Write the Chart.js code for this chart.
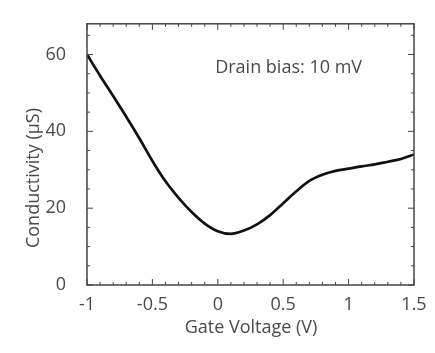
<!DOCTYPE html>
<html><head><meta charset="utf-8">
<script src="https://cdn.jsdelivr.net/npm/chart.js@4/dist/chart.umd.min.js"></script>
<style>html,body{margin:0;padding:0;background:#fff;}#wrap{width:435px;height:353px;}</style>
</head><body><div id="wrap"><canvas id="c" width="435" height="353"></canvas></div>
<script>
const gateVoltage = [-1,-0.9,-0.8,-0.7,-0.6,-0.5,-0.4,-0.3,-0.2,-0.1,0,0.1,0.2,0.3,0.4,0.5,0.6,0.7,0.8,0.9,1.0,1.1,1.2,1.3,1.4,1.5];
const conductivity = [60,54.5,49.2,43.8,38.2,32.3,27.0,22.7,19.0,16.0,14.0,13.3,14.2,15.8,18.2,21.3,24.4,27.1,28.7,29.7,30.3,30.9,31.4,32.1,32.8,34.0];
const xTicks = [-1,-0.5,0,0.5,1,1.5];
const yTicks = [0,20,40,60];
const annotationText = "Drain bias: 10 mV";
const xTitle = "Gate Voltage (V)";
const yTitle = "Conductivity (µS)";
const textColor = "#4a4a4a";
const fontFamily = "'Open Sans', sans-serif";

const framePlugin = {
  id: 'frame',
  afterDraw(chart) {
    const ctx = chart.ctx, a = chart.chartArea, xs = chart.scales.x, ys = chart.scales.y;
    ctx.save();
    ctx.strokeStyle = '#444';
    ctx.lineWidth = 1.5;
    ctx.strokeRect(a.left, a.top, a.right - a.left, a.bottom - a.top);
    ctx.lineWidth = 1;
    for (let i = -10; i <= 15; i++) {
      const v = i / 10, px = xs.getPixelForValue(v);
      const len = (i % 5 === 0) ? 6 : 3;
      ctx.beginPath();
      ctx.moveTo(px, a.bottom); ctx.lineTo(px, a.bottom - len);
      ctx.moveTo(px, a.top); ctx.lineTo(px, a.top + len);
      ctx.stroke();
    }
    for (let v = 0; v <= ys.max; v += 5) {
      const py = ys.getPixelForValue(v);
      const len = (v % 20 === 0) ? 6 : 3;
      ctx.beginPath();
      ctx.moveTo(a.left, py); ctx.lineTo(a.left + len, py);
      ctx.moveTo(a.right, py); ctx.lineTo(a.right - len, py);
      ctx.stroke();
    }
    ctx.fillStyle = textColor;
    ctx.font = "18px " + fontFamily;
    ctx.textAlign = 'left';
    ctx.textBaseline = 'middle';
    ctx.fillText(annotationText, xs.getPixelForValue(-0.02), ys.getPixelForValue(56.6));
    // y-axis title
    ctx.save();
    ctx.translate(34, 178);
    ctx.rotate(-Math.PI / 2);
    ctx.textAlign = 'center';
    ctx.textBaseline = 'middle';
    ctx.fillText(yTitle, 0, 0);
    ctx.restore();
    // x-axis title
    ctx.textAlign = 'center';
    ctx.textBaseline = 'alphabetic';
    ctx.fillText(xTitle, 251, 333);
    ctx.restore();
  }
};

new Chart(document.getElementById('c'), {
  type: 'line',
  data: {
    datasets: [{
      data: gateVoltage.map((x, i) => ({x: x, y: conductivity[i]})),
      borderColor: '#111',
      borderWidth: 2.7,
      pointRadius: 0,
      cubicInterpolationMode: 'monotone',
      fill: false
    }]
  },
  options: {
    responsive: false,
    animation: false,
    layout: {padding: {left: 0, top: 22, right: 21, bottom: 0}},
    plugins: {legend: {display: false}, tooltip: {enabled: false}},
    scales: {
      x: {
        type: 'linear', min: -1, max: 1.5,
        afterBuildTicks: s => { s.ticks = xTicks.map(v => ({value: v})); },
        afterFit: s => { s.height = 353 - 285; },
        grid: {display: false},
        border: {display: false},
        ticks: {color: textColor, font: {size: 18, family: fontFamily}, padding: 1, maxRotation: 0, callback: v => String(v)},
      },
      y: {
        min: 0, max: 68,
        afterBuildTicks: s => { s.ticks = yTicks.map(v => ({value: v})); },
        afterFit: s => { s.width = 87; },
        grid: {display: false},
        border: {display: false},
        ticks: {color: textColor, font: {size: 18, family: fontFamily}, padding: 13, callback: v => String(v)}
      }
    }
  },
  plugins: [framePlugin]
});
</script></body></html>
